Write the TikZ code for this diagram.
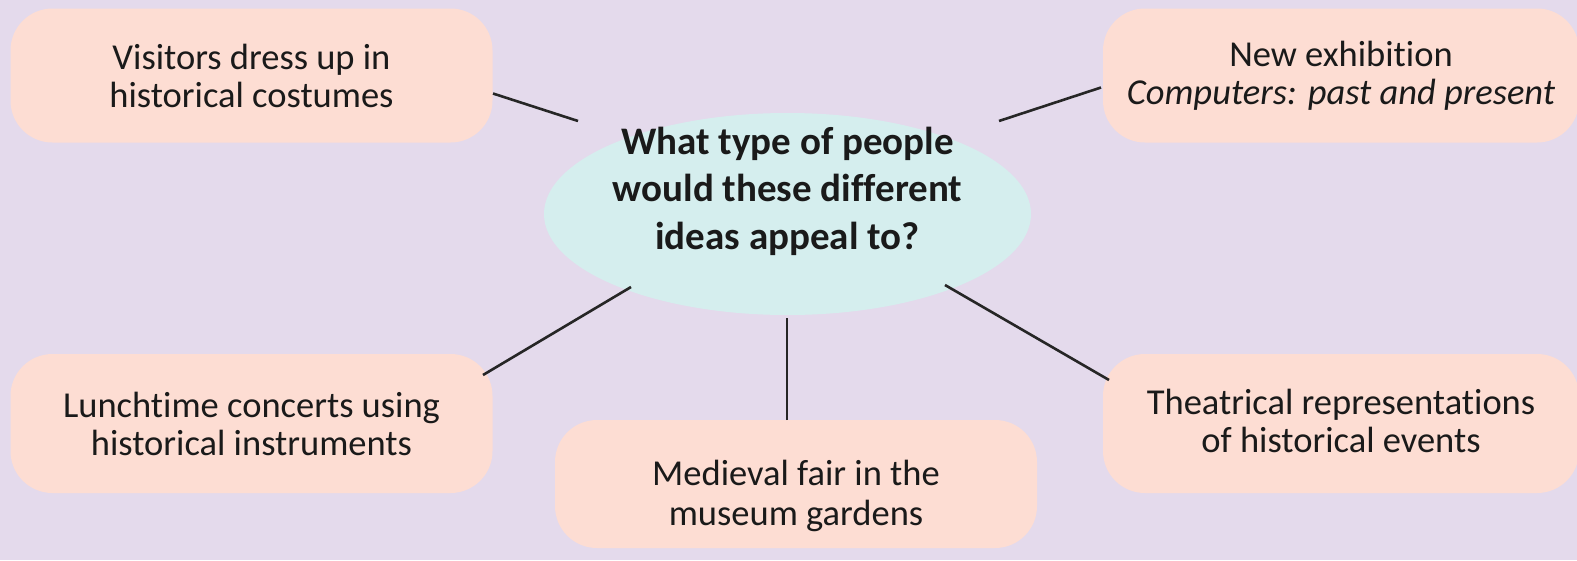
\documentclass[tikz,border=0pt]{standalone}
\usepackage{fontspec}
\setmainfont[Ligatures=NoCommon]{Carlito}
\usetikzlibrary{shapes.geometric}
\definecolor{bg}{HTML}{E4DAEC}
\definecolor{peach}{HTML}{FDDDD3}
\definecolor{aqua}{HTML}{D5EEEE}
\definecolor{ink}{HTML}{1A1A1A}
\begin{document}
\begin{tikzpicture}[x=1pt,y=-1pt,
  idea/.style={fill=peach, rounded corners=42pt, inner sep=0pt,
    minimum width=482pt, minimum height=134pt, align=center,
    text=ink, font=\fontsize{36.5}{38}\selectfont},
  caption/.style={idea, fill=none, minimum size=0pt},
  hub/.style={ellipse, fill=aqua, inner sep=0pt,
    minimum width=487pt, minimum height=202pt},
  question/.style={align=center, text=ink, inner sep=0pt,
    font=\bfseries\fontsize{39}{47.5}\selectfont},
  link/.style={draw=black!85, line width=2.6pt}]
\fill[bg] (0,0) rectangle (1577,560);
\useasboundingbox (0,0) rectangle (1577,560);

% central question, set a little above the middle of the ellipse
\node[hub, label={[question, yshift=23]center:{What type of people\\would these different\\ideas appeal to?}}] (hub) at (787.5,214) {};

% the five ideas
\node[idea] (tl) at (251.5,75.5) {Visitors dress up in\\historical costumes};
\node[idea, minimum width=476pt] (tr) at (1341,75.5) {New exhibition\\\textit{Computers: past and present}};
\node[idea, minimum height=139pt] (bl) at (251.5,423.5) {Lunchtime concerts using\\historical instruments};
\node[idea, minimum height=128pt,
  label={[caption, yshift=-11.5, font=\fontsize{36.5}{40}\selectfont]center:{Medieval fair in the\\museum gardens}}]
  (bm) at (796,484) {};
\node[idea, minimum width=476pt, minimum height=139pt,
  label={[caption, yshift=3]center:{Theatrical representations\\of historical events}}]
  (br) at (1341,423.5) {};

% connector ends near the hub
\coordinate (htl) at (578,121);
\coordinate (htr) at (999,121);
\coordinate (hbl) at (631,287);
\coordinate (hbm) at (787,318);
\coordinate (hbr) at (945,285);
\coordinate (etl) at (493,93.5);
\coordinate (etr) at (1101,87.5);
\coordinate (ebl) at (483,375);
\coordinate (ebm) at (787,420);
\coordinate (ebr) at (1109,380);

\draw[link] (etl) -- (htl);
\draw[link] (etr) -- (htr);
\draw[link] (ebl) -- (hbl);
\draw[link] (ebm) -- (hbm);
\draw[link] (ebr) -- (hbr);
\end{tikzpicture}
\end{document}
